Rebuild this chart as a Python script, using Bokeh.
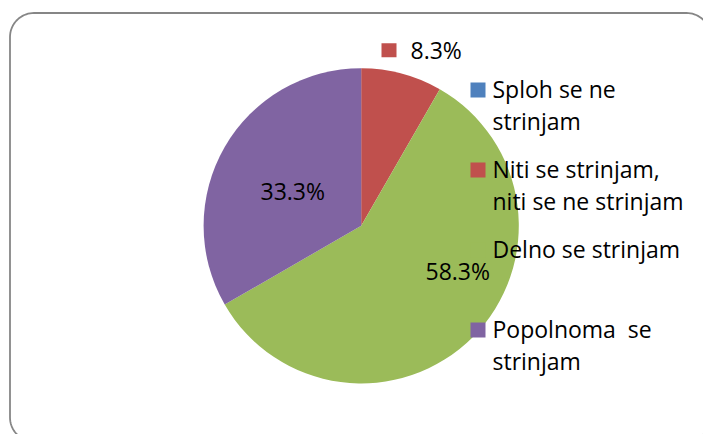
import numpy as np
from bokeh.plotting import figure
from bokeh.models import Range1d, ColumnDataSource
from bokeh.embed import file_html
from bokeh.resources import INLINE
from bokeh.core.properties import value

# ---- data ----
categories = [
    "Sploh se ne\nstrinjam",
    "Niti se strinjam,\nniti se ne strinjam",
    "Delno se strinjam",
    "Popolnoma\u00a0 se\nstrinjam",
]
percent = [0.0, 8.3, 58.3, 33.3]
colors = ["#4F81BD", "#C0504D", "#9BBB59", "#8064A2"]

# ---- layout (page pixel coordinates) ----
W, H = 703, 434
FONT = "Open Sans"
FS = "23px"
TXT_DY = -8.5  # renderer baseline correction
cx, cy, R = 360.7, 225.3, 157.6
# data-label anchors (left x, baseline y) per category; None = no label
label_pos = [None, (410, 57.5), (425, 279.3), (260, 199.3)]
label_key = [False, True, False, False]

p = figure(width=W, height=H, output_backend="svg", toolbar_location=None,
           x_range=Range1d(0, W), y_range=Range1d(-H, 0),
           min_border=0, background_fill_color="white", border_fill_color="white")
p.xaxis.visible = False
p.yaxis.visible = False
p.grid.visible = False
p.outline_line_color = None

# ---- rounded frame ----
x0, y0, x1, y1, r = 9.5, 12.5, 710.0, 441.0, 24.0
def arc(xc, yc, a0, a1, n=20):
    t = np.linspace(a0, a1, n)
    return xc + r * np.cos(t), yc + r * np.sin(t)
segs = [arc(x0 + r, y0 + r, np.pi, 1.5 * np.pi),
        arc(x1 - r, y0 + r, 1.5 * np.pi, 2 * np.pi),
        arc(x1 - r, y1 - r, 0, 0.5 * np.pi),
        arc(x0 + r, y1 - r, 0.5 * np.pi, np.pi)]
fx = np.concatenate([s[0] for s in segs] + [segs[0][0][:1]])
fy = np.concatenate([s[1] for s in segs] + [segs[0][1][:1]])
p.line(fx, -fy, line_color="#868686", line_width=1.8)

# ---- pie ----
vals = np.array(percent, dtype=float)
frac = vals / vals.sum()
cum = np.concatenate([[0.0], np.cumsum(frac)])
start = np.pi / 2 - 2 * np.pi * cum[:-1]
end = np.pi / 2 - 2 * np.pi * cum[1:]
keep = vals > 0
src = ColumnDataSource(dict(start=start[keep], end=end[keep],
                            color=[c for c, k in zip(colors, keep) if k]))
p.wedge(x=cx, y=-cy, radius=R, start_angle="start", end_angle="end",
        direction="clock", fill_color="color", line_color=None, source=src)

# ---- legend (on top of pie, like the reference) ----
leg_x_key, leg_x_text = 477.5, 492
leg_y0, leg_step, line_step = 96.7, 80.0, 32.0
for i, (cat, col) in enumerate(zip(categories, colors)):
    base = leg_y0 + i * leg_step
    p.rect(x=[leg_x_key], y=[-(base - 7.2)], width=15, height=15,
           fill_color=col, line_color=None)
    for j, line in enumerate(cat.split("\n")):
        p.text(x=[leg_x_text], y=[-(base + j * line_step + TXT_DY)], text=[line],
               text_font=value(FONT), text_font_size=FS, text_color="#000000",
               text_baseline="alphabetic", text_align="left")

# ---- data labels ----
for v, col, pos, key in zip(percent, colors, label_pos, label_key):
    if pos is None or v <= 0:
        continue
    lx, ly = pos
    if key:
        p.rect(x=[lx - 21.5], y=[-(ly - 7.8)], width=15, height=14,
               fill_color=col, line_color=None)
    p.text(x=[lx], y=[-(ly + TXT_DY)], text=[f"{v:.1f}%"], text_font=value(FONT),
           text_font_size=FS, text_color="#000000",
           text_baseline="alphabetic", text_align="left")

open("out.html", "w").write(file_html(p, INLINE))
